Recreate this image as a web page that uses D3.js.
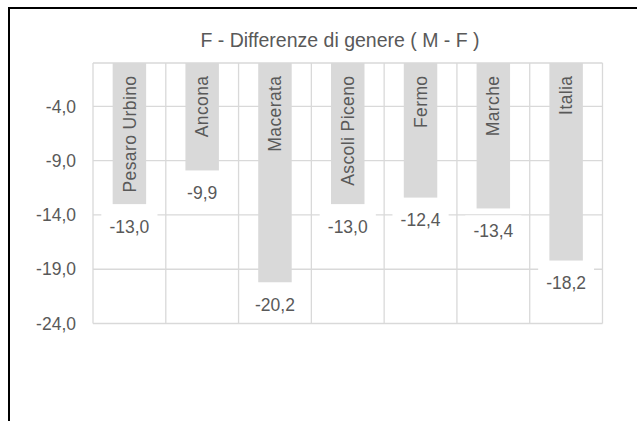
<!DOCTYPE html>
<html>
<head>
<meta charset="utf-8">
<script src="https://cdnjs.cloudflare.com/ajax/libs/d3/7.8.5/d3.min.js"></script>
<style>
  html, body { margin: 0; padding: 0; background: #fff; }
  svg { display: block; font-family: "Liberation Sans", Arial, sans-serif; }
</style>
</head>
<body>
<svg id="chart" width="637" height="421"></svg>
<script>
const title = "F - Differenze di genere ( M - F )";
const categories = ["Pesaro Urbino", "Ancona", "Macerata", "Ascoli Piceno", "Fermo", "Marche", "Italia"];
const values = [-13.0, -9.9, -20.2, -13.0, -12.4, -13.4, -18.2];
const yTicks = [-4, -9, -14, -19, -24];
const yDomain = [-24, 0];

const svg = d3.select("#chart");
const W = 637, H = 421;
const plot = { left: 93, right: 602.5, top: 63, bottom: 323.5 };
const textColor = "#595959";
const gridColor = "#d9d9d9";
const barColor = "#d9d9d9";
const fmt = v => d3.format(".1f")(v).replace("−", "-").replace(".", ",");

svg.append("rect").attr("width", W).attr("height", H).attr("fill", "#fff");

// chart frame (clipped at right/bottom)
svg.append("rect")
  .attr("x", 9).attr("y", 8).attr("width", W + 50).attr("height", H + 50)
  .attr("fill", "none").attr("stroke", "#000").attr("stroke-width", 2);

const x = d3.scaleBand().domain(categories).range([plot.left, plot.right]).padding(0);
const y = d3.scaleLinear().domain(yDomain).range([plot.bottom, plot.top]);

const g = svg.append("g");

// horizontal gridlines
g.selectAll("line.hgrid").data(yTicks.concat([0])).enter().append("line")
  .attr("class", "hgrid")
  .attr("x1", plot.left).attr("x2", plot.right)
  .attr("y1", d => y(d)).attr("y2", d => y(d))
  .attr("stroke", gridColor).attr("stroke-width", 1.3);

// vertical gridlines at category boundaries
const bounds = categories.map(c => x(c)).concat([plot.right]);
g.selectAll("line.vgrid").data(bounds).enter().append("line")
  .attr("class", "vgrid")
  .attr("x1", d => d).attr("x2", d => d)
  .attr("y1", plot.top).attr("y2", plot.bottom)
  .attr("stroke", gridColor).attr("stroke-width", 1.3);

// y axis labels
const yAxis = d3.axisLeft(y).tickValues(yTicks).tickFormat(fmt).tickSize(0).tickPadding(0);
const ya = svg.append("g").attr("transform", `translate(76,0)`).call(yAxis);
ya.select(".domain").remove();
ya.selectAll("text").attr("fill", textColor).style("font-size", "17.5px")
  .style("font-family", '"Liberation Sans", Arial, sans-serif');

// bars
const barW = x.bandwidth() * 0.46;
g.selectAll("rect.bar").data(values).enter().append("rect")
  .attr("class", "bar")
  .attr("x", (d, i) => x(categories[i]) + (x.bandwidth() - barW) / 2)
  .attr("y", y(0))
  .attr("width", barW)
  .attr("height", d => y(d) - y(0))
  .attr("fill", barColor);

// category labels (rotated, inside top of bars)
g.selectAll("text.cat").data(categories).enter().append("text")
  .attr("class", "cat")
  .attr("transform", d => `translate(${x(d) + x.bandwidth() / 2},${y(0) + 12.5}) rotate(-90)`)
  .attr("text-anchor", "end")
  .attr("dy", "0.35em")
  .attr("fill", textColor)
  .style("font-size", "17.5px")
  .style("letter-spacing", "0.4px")
  .text(d => d);

// data labels with white boxes
const lbl = g.selectAll("g.lbl").data(values).enter().append("g").attr("class", "lbl")
  .attr("transform", (d, i) => `translate(${x(categories[i]) + x.bandwidth() / 2},${y(d) + 22.5})`);
lbl.append("text")
  .attr("text-anchor", "middle")
  .attr("dy", "0.35em")
  .attr("fill", textColor)
  .style("font-size", "17.5px")
  .text(d => fmt(d));
lbl.each(function () {
  const t = d3.select(this).select("text");
  const bb = t.node().getBBox();
  d3.select(this).insert("rect", "text")
    .attr("x", -bb.width / 2 - 8).attr("y", -15.5)
    .attr("width", bb.width + 16).attr("height", 31)
    .attr("fill", "#fff");
});

// title
svg.append("text")
  .attr("x", 340).attr("y", 47)
  .attr("text-anchor", "middle")
  .attr("fill", textColor)
  .style("font-size", "19.5px")
  .text(title);
</script>
</body>
</html>
